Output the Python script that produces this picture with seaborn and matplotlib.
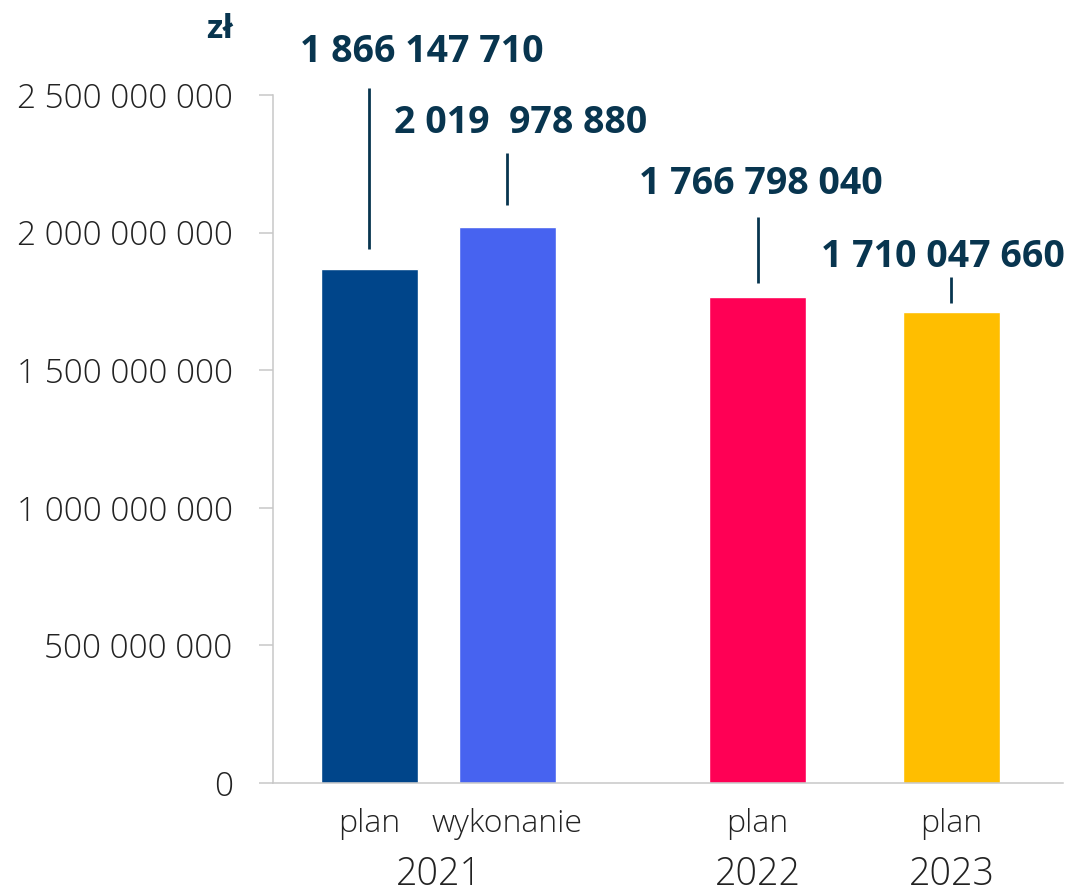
import matplotlib
matplotlib.use("Agg")
import matplotlib.pyplot as plt
import seaborn as sns
import pandas as pd

# data
categories = ["plan", "wykonanie", "plan", "plan"]
years = ["2021", "2021", "2022", "2023"]
values = [1866147710, 2019978880, 1766798040, 1710047660]
value_labels = ["1 866 147 710", "2 019  978 880", "1 766 798 040", "1 710 047 660"]
bar_colors = ["#00458A", "#4763F0", "#FF0055", "#FFBE00"]
y_ticks = [0, 500000000, 1000000000, 1500000000, 2000000000, 2500000000]
y_tick_labels = ["0", "500 000 000", "1 000 000 000", "1 500 000 000",
                 "2 000 000 000", "2 500 000 000"]
unit_label = "zł"

# layout (bar centres, label offsets in pixels)
x_pos = [0, 1, 2.812, 4.217]
label_dx = [52, 13, 3, -9]
line_gap = [20, 22, 14, 9]
line_top = [181, 74, 80, 35]
text_dy = [217, 104, 113, 55]

navy = "#08354F"
grey = "#c8c8c8"

sns.set_style("white")
plt.rcParams["font.family"] = ["Open Sans", "DejaVu Sans"]

df = pd.DataFrame({
    "x": x_pos,
    "value": values,
    "bar": [f"{y} {c}" for y, c in zip(years, categories)],
})

fig = plt.figure(figsize=(10.73, 8.96), dpi=100)
ax = fig.add_axes([273 / 1073, 1 - 783 / 896, (1063 - 273) / 1073, (783 - 95) / 896])

sns.barplot(data=df, x="x", y="value", hue="bar", palette=bar_colors,
            native_scale=True, width=0.703, saturation=1, legend=False, ax=ax)

ax.set_xlim(-0.699, 5.025)
ax.set_ylim(0, 2500000000)
ax.set_xlabel("")
ax.set_ylabel("")

# pixel -> data scales
px_x = 1 / 138
px_y = 2500000000 / 688

ax.set_yticks(y_ticks, y_tick_labels)
ax.tick_params(axis="y", left=True, length=10, width=1.1, color=grey, pad=19,
               labelsize=24, labelcolor="#222222")
for t in ax.get_yticklabels():
    t.set_fontweight("light")
ax.set_xticks(x_pos, categories)
ax.tick_params(axis="x", length=0, pad=18, labelsize=23, labelcolor="#222222")
for t in ax.get_xticklabels():
    t.set_fontweight("light")

sns.despine(ax=ax)
for s in ["left", "bottom"]:
    ax.spines[s].set_color(grey)
    ax.spines[s].set_linewidth(1.1)

# year labels under the category labels
for yr in sorted(set(years)):
    xs = [x for x, y in zip(x_pos, years) if y == yr]
    ax.text(sum(xs) / len(xs), -92 * px_y, yr, ha="center", va="center",
            fontsize=27, fontweight="light", color="#222222", clip_on=False)

# value labels with leader lines
for i, v in enumerate(values):
    ax.vlines(x_pos[i], v + line_gap[i] * px_y, v + line_top[i] * px_y,
              color=navy, linewidth=2, clip_on=False)
    ax.text(x_pos[i] + label_dx[i] * px_x, v + text_dy[i] * px_y, value_labels[i],
            ha="center", va="center", fontsize=27, fontweight="bold",
            color=navy, clip_on=False)

fig.text(220 / 1073, 1 - 30 / 896, unit_label, ha="center", va="center",
         fontsize=24, fontweight="bold", color=navy)

fig.savefig("out.png", dpi=100)
